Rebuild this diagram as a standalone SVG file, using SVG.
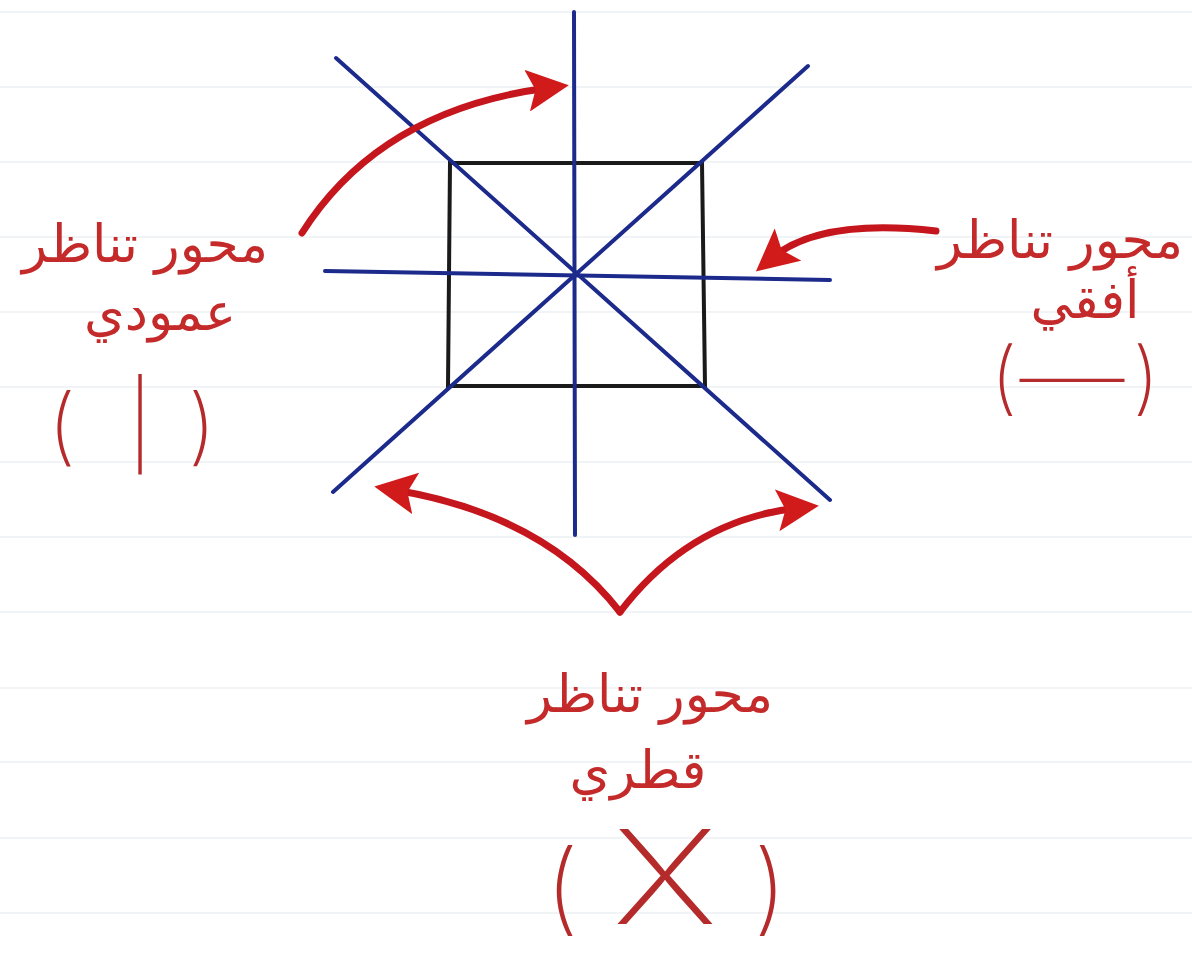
<svg xmlns="http://www.w3.org/2000/svg" width="1192" height="960" viewBox="0 0 1192 960">
<style>
.paper{stroke:#f0f4f7;stroke-width:2}
.axis{stroke:#1c2a8c;stroke-width:4;stroke-linecap:round;fill:none}
.sq{stroke:#1a1a1a;stroke-width:4;fill:none}
.arrow{stroke:#c4161c;stroke-width:7;fill:none;stroke-linecap:round}
.lbl{font-family:"DejaVu Sans",sans-serif;fill:#c42a2a;font-size:52px;text-anchor:middle}
.sym{font-family:Inter,"Liberation Sans",sans-serif;fill:#b52a2a;font-weight:200;text-anchor:middle}
</style>
<defs>
<marker id="ah" markerWidth="6" markerHeight="6" refX="3" refY="3" orient="auto" markerUnits="strokeWidth">
<path d="M0,0 L6,3 L0,6 L1.2,3 Z" fill="#d11a1a"/>
</marker>
</defs>
<rect width="1192" height="960" fill="#ffffff"/>
<g id="paper">
<line class="paper" x1="0" y1="12" x2="1192" y2="12"/>
<line class="paper" x1="0" y1="87" x2="1192" y2="87"/>
<line class="paper" x1="0" y1="162" x2="1192" y2="162"/>
<line class="paper" x1="0" y1="237" x2="1192" y2="237"/>
<line class="paper" x1="0" y1="312" x2="1192" y2="312"/>
<line class="paper" x1="0" y1="387" x2="1192" y2="387"/>
<line class="paper" x1="0" y1="462" x2="1192" y2="462"/>
<line class="paper" x1="0" y1="537" x2="1192" y2="537"/>
<line class="paper" x1="0" y1="612" x2="1192" y2="612"/>
<line class="paper" x1="0" y1="688" x2="1192" y2="688"/>
<line class="paper" x1="0" y1="762" x2="1192" y2="762"/>
<line class="paper" x1="0" y1="838" x2="1192" y2="838"/>
<line class="paper" x1="0" y1="913" x2="1192" y2="913"/>
</g>
<g id="square">
<path class="sq" d="M450,163 L702,163 L705,386 L448,386 Z"/>
</g>
<g id="axes">
<line class="axis" x1="574" y1="12" x2="575" y2="535"/>
<line class="axis" x1="325" y1="271" x2="830" y2="280"/>
<line class="axis" x1="336" y1="58" x2="830" y2="500"/>
<line class="axis" x1="808" y1="66" x2="333" y2="492"/>
</g>
<g id="connectors">
<path class="arrow" marker-end="url(#ah)" d="M302,233 Q380,110 548,88"/>
<path class="arrow" marker-end="url(#ah)" d="M936,231 Q820,218 772,258"/>
<path class="arrow" marker-end="url(#ah)" d="M620,612 Q545,515 395,490"/>
<path class="arrow" marker-end="url(#ah)" d="M620,612 Q690,520 798,508"/>
</g>
<g id="label-vertical">
<text class="lbl" x="145" y="262">محور تناظر</text>
<text class="lbl" x="160" y="330">عمودي</text>
<text class="sym" x="62" y="455" font-size="84">(</text>
<text class="sym" x="140" y="455" font-size="84">|</text>
<text class="sym" x="202" y="455" font-size="84">)</text>
</g>
<g id="label-horizontal">
<text class="lbl" x="1060" y="258">محور تناظر</text>
<text class="lbl" x="1085" y="318">أفقي</text>
<text class="sym" x="1004" y="405" font-size="80">(</text>
<text class="sym" x="1072" y="405" font-size="80" textLength="105" lengthAdjust="spacingAndGlyphs">—</text>
<text class="sym" x="1146" y="405" font-size="80">)</text>
</g>
<g id="label-diagonal">
<text class="lbl" x="650" y="712">محور تناظر</text>
<text class="lbl" x="638" y="788">قطري</text>
<text class="sym" x="562" y="922" font-size="100">(</text>
<text class="sym" x="665" y="924" font-size="130" textLength="105" lengthAdjust="spacingAndGlyphs">X</text>
<text class="sym" x="770" y="922" font-size="100">)</text>
</g>
</svg>
